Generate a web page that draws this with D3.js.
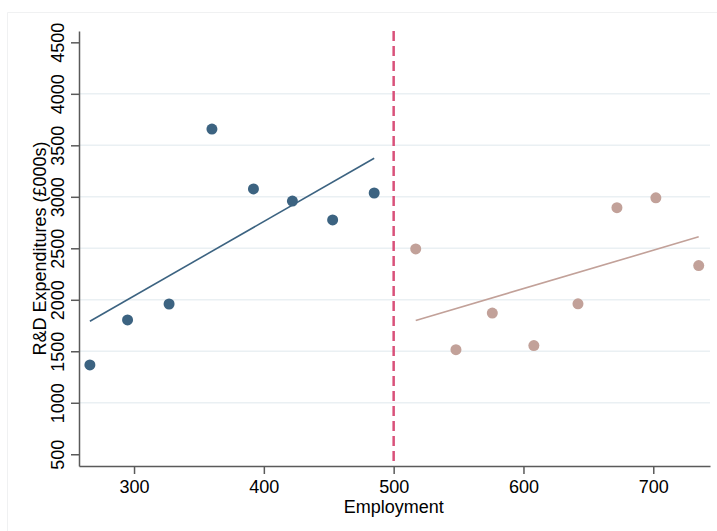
<!DOCTYPE html>
<html>
<head>
<meta charset="utf-8">
<script src="https://cdn.jsdelivr.net/npm/d3@7"></script>
<style>
  body { margin: 0; background: #fff; overflow: hidden; }
  svg { display: block; font-family: "Liberation Sans", Arial, sans-serif; }
</style>
</head>
<body>
<div id="chart"></div>
<script>
const width = 717;
const height = 531;

// Firms below the 500-employee threshold
const leftEmployment = [266, 295, 327, 360, 392, 422, 453, 485];
const leftRD = [1367, 1804, 1959, 3658, 3076, 2959, 2775, 3037];

// Firms above the threshold
const rightEmployment = [517, 548, 576, 608, 642, 672, 702, 735];
const rightRD = [2494, 1516, 1871, 1555, 1961, 2894, 2990, 2332];

const xTicks = [300, 400, 500, 600, 700];
const yTicks = [500, 1000, 1500, 2000, 2500, 3000, 3500, 4000, 4500];
const gridTicks = [1000, 1500, 2000, 2500, 3000, 3500, 4000];
const cutoff = 500;

const margin = { left: 79, right: 7, top: 31, bottom: 65 };

const svg = d3.select("#chart")
  .append("svg")
  .attr("width", width)
  .attr("height", height);

// faint outer frame (top and left edges only show)
svg.append("path")
  .attr("d", `M7.5,${height}V12.5H${width}`)
  .attr("fill", "none")
  .attr("stroke", "#f0f1f2");

const x = d3.scaleLinear()
  .domain([257.6, 743.7])
  .range([margin.left, width - margin.right]);

const y = d3.scaleLinear()
  .domain([386, 4610])
  .range([height - margin.bottom, margin.top]);

// gridlines
svg.append("g")
  .selectAll("line")
  .data(gridTicks)
  .enter()
  .append("line")
  .attr("x1", x.range()[0])
  .attr("x2", x.range()[1])
  .attr("y1", d => y(d))
  .attr("y2", d => y(d))
  .attr("stroke", "#eaf0f3")
  .attr("stroke-width", 1.5);

// x axis
const xAxis = svg.append("g")
  .attr("transform", `translate(0,${y.range()[0]})`)
  .call(d3.axisBottom(x).tickValues(xTicks).tickFormat(d3.format("d"))
    .tickSizeInner(8).tickSizeOuter(0).tickPadding(6));
xAxis.select(".domain").attr("stroke", "#5a5a5a").attr("stroke-width", 1.5);
xAxis.selectAll(".tick line").attr("stroke", "#5a5a5a").attr("stroke-width", 1.5);
xAxis.selectAll(".tick text")
  .attr("font-size", "18px")
  .attr("fill", "#000")
  .attr("font-family", "Liberation Sans, Arial, sans-serif");

// y axis
const yAxis = svg.append("g")
  .attr("transform", `translate(${x.range()[0]},0)`)
  .call(d3.axisLeft(y).tickValues(yTicks).tickFormat(d3.format("d"))
    .tickSizeInner(8).tickSizeOuter(0));
yAxis.select(".domain").attr("stroke", "#5a5a5a").attr("stroke-width", 1.5);
yAxis.selectAll(".tick line").attr("stroke", "#5a5a5a").attr("stroke-width", 1.5);
yAxis.selectAll(".tick text")
  .attr("x", null)
  .attr("transform", "translate(-21,0) rotate(-90)")
  .attr("text-anchor", "middle")
  .attr("dy", "0.35em")
  .attr("font-size", "18px")
  .attr("fill", "#000")
  .attr("font-family", "Liberation Sans, Arial, sans-serif");

// axis titles
svg.append("text")
  .attr("x", x(cutoff))
  .attr("y", 513)
  .attr("text-anchor", "middle")
  .attr("font-size", "18px")
  .text("Employment");

svg.append("text")
  .attr("transform", `translate(40,${(y.range()[0] + y.range()[1]) / 2}) rotate(-90)`)
  .attr("text-anchor", "middle")
  .attr("dy", "0.35em")
  .attr("font-size", "18px")
  .text("R&D Expenditures (£000s)");

// cutoff line
svg.append("line")
  .attr("x1", x(cutoff))
  .attr("x2", x(cutoff))
  .attr("y1", y.range()[1])
  .attr("y2", y.range()[0])
  .attr("stroke", "#d9517a")
  .attr("stroke-width", 2.5)
  .attr("stroke-dasharray", "10,5");

// least squares fit
function fitLine(xs, ys) {
  const mx = d3.mean(xs), my = d3.mean(ys);
  const sxy = d3.sum(xs, (v, i) => (v - mx) * (ys[i] - my));
  const sxx = d3.sum(xs, v => (v - mx) * (v - mx));
  const b = sxy / sxx;
  const ext = d3.extent(xs);
  return ext.map(v => [v, my + b * (v - mx)]);
}

const groups = [
  { xs: leftEmployment, ys: leftRD, color: "#3c6381" },
  { xs: rightEmployment, ys: rightRD, color: "#c2a199" }
];

const line = d3.line().x(d => x(d[0])).y(d => y(d[1]));

groups.forEach(g => {
  svg.append("path")
    .datum(fitLine(g.xs, g.ys))
    .attr("d", line)
    .attr("fill", "none")
    .attr("stroke", g.color)
    .attr("stroke-width", 1.6);

  svg.append("g")
    .selectAll("circle")
    .data(g.xs.map((v, i) => [v, g.ys[i]]))
    .enter()
    .append("circle")
    .attr("cx", d => x(d[0]))
    .attr("cy", d => y(d[1]))
    .attr("r", 5.5)
    .attr("fill", g.color);
});
</script>
</body>
</html>
